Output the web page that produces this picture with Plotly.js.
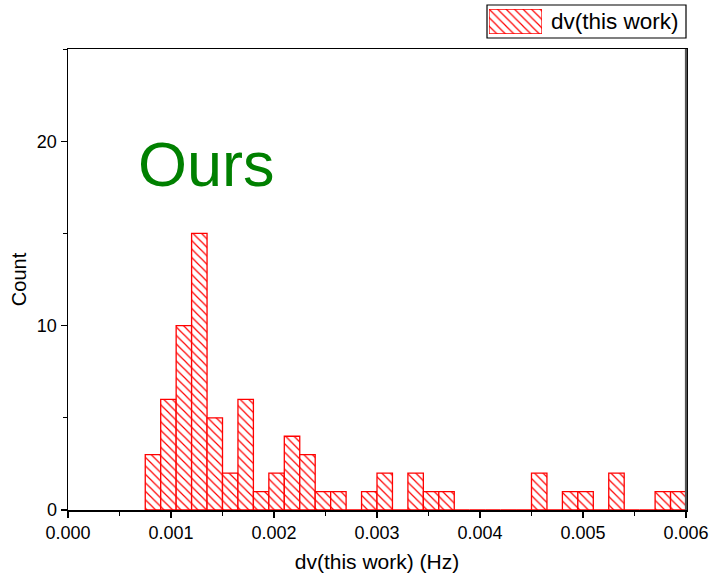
<!DOCTYPE html>
<html>
<head>
<meta charset="utf-8">
<script src="https://cdn.plot.ly/plotly-3.0.1.min.js"></script>
<style>html,body{margin:0;padding:0;background:#fff;}#chart{width:712px;height:575px;}</style>
</head>
<body>
<div id="chart"></div>
<script>
// Histogram bins: left edge of first bin and bin width (Hz)
const binStart = 0.00075;
const binWidth = 0.00015;
// Counts per bin
const counts = [3, 6, 10, 15, 5, 2, 6, 1, 2, 4, 3, 1, 1, 0, 1, 2, 0, 2, 1, 1, 0, 0, 0, 0, 0, 2, 0, 1, 1, 0, 2, 0, 0, 1, 1];
const seriesName = 'dv(this work)';
const xTickVals = [0, 0.001, 0.002, 0.003, 0.004, 0.005, 0.006];
const xTickText = ['0.000', '0.001', '0.002', '0.003', '0.004', '0.005', '0.006'];
const yTickVals = [0, 10, 20];

const centers = counts.map((c, i) => binStart + (i + 0.5) * binWidth);

const barMarker = {
  color: 'red',
  line: {color: 'red', width: 1.3},
  pattern: {shape: '\\', fgcolor: 'red', bgcolor: 'white', fillmode: 'replace', size: 6, solidity: 0.2}
};

const trace = {
  type: 'bar',
  x: centers,
  y: counts,
  width: centers.map(() => binWidth),
  name: seriesName,
  showlegend: false,
  marker: barMarker,
  hoverinfo: 'x+y'
};

// legend swatch drawn as a single bar on its own small axes
const legendSwatch = {
  type: 'bar', x: [0], y: [1], width: [1],
  xaxis: 'x2', yaxis: 'y2',
  name: seriesName, showlegend: false, hoverinfo: 'skip',
  marker: barMarker
};

const font = {family: '"Liberation Sans", Arial, sans-serif', color: '#000'};

const layout = {
  width: 712, height: 575,
  margin: {l: 68, r: 26, t: 4, b: 65, autoexpand: false},
  paper_bgcolor: '#fff', plot_bgcolor: '#fff',
  font: Object.assign({size: 18}, font),
  bargap: 0,
  xaxis: {
    range: [0, 0.006],
    tickvals: xTickVals, ticktext: xTickText,
    ticks: 'outside', ticklen: 6, tickwidth: 1.2, tickcolor: '#000',
    minor: {dtick: 0.0005, tick0: 0, ticks: 'outside', ticklen: 4, tickwidth: 1, tickcolor: '#000'},
    showline: true, linecolor: '#000', linewidth: 1.5, mirror: true,
    showgrid: false, zeroline: false,
    tickfont: Object.assign({size: 18}, font),
    title: {text: 'dv(this work) (Hz)', font: Object.assign({size: 21}, font), standoff: 12}
  },
  yaxis: {
    domain: [0, 461 / 506],
    range: [0, 25],
    tickvals: yTickVals,
    ticks: 'outside', ticklen: 6, tickwidth: 1.2, tickcolor: '#000',
    minor: {dtick: 5, tick0: 0, ticks: 'outside', ticklen: 4, tickwidth: 1, tickcolor: '#000'},
    showline: true, linecolor: '#000', linewidth: 1.5, mirror: true,
    showgrid: false, zeroline: false,
    tickfont: Object.assign({size: 18}, font),
    title: {text: 'Count', font: Object.assign({size: 20}, font), standoff: 5}
  },
  xaxis2: {domain: [0.6812, 0.7670], range: [-0.5, 0.5], visible: false, fixedrange: true},
  yaxis2: {domain: [0.9407, 0.9901], range: [0, 1], visible: false, fixedrange: true, anchor: 'x2'},
  showlegend: false,
  shapes: [
    {type: 'rect', xref: 'paper', yref: 'paper', x0: 0.678, x1: 1.0, y0: 0.9328, y1: 0.998,
     line: {color: '#000', width: 1.2}, fillcolor: 'rgba(0,0,0,0)', layer: 'below'},
    {type: 'line', xref: 'paper', yref: 'paper', x0: 1, x1: 1, y0: 0, y1: 461 / 506,
     line: {color: '#555', width: 2.2}}
  ],
  annotations: [
    {
      text: 'Ours', xref: 'x', yref: 'y',
      x: 0.00066, y: 18.75, xanchor: 'left', yanchor: 'middle',
      showarrow: false,
      font: {family: '"Liberation Sans", Arial, sans-serif', size: 63, color: 'green'}
    },
    {
      text: seriesName, xref: 'paper', yref: 'paper',
      x: 0.7783, y: 0.9664, xanchor: 'left', yanchor: 'middle',
      showarrow: false,
      font: Object.assign({size: 22.5}, font)
    }
  ]
};

Plotly.newPlot('chart', [trace, legendSwatch], layout, {displayModeBar: false, staticPlot: true});
</script>
</body>
</html>
